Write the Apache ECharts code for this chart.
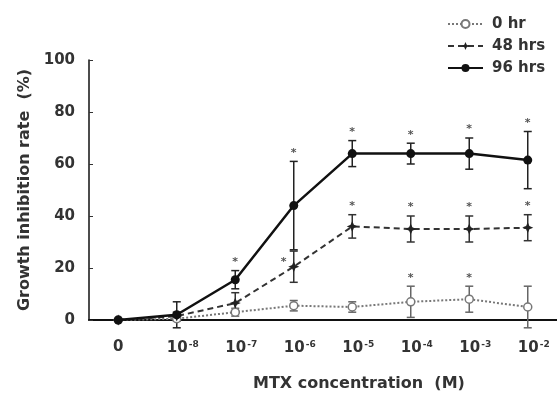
<!DOCTYPE html>
<html><head><meta charset="utf-8">
<script src="https://cdn.jsdelivr.net/npm/echarts@6/dist/echarts.min.js"></script>
<style>html,body{margin:0;padding:0;background:#fff}#c{width:557px;height:394px}</style>
</head><body><div id="c"></div>
<script>
var categories = ['0', '-8', '-7', '-6', '-5', '-4', '-3', '-2'];
var yTicks = [0, 20, 40, 60, 80, 100];
var hr0 = [0, 0.5, 3, 5.5, 5, 7, 8, 5];
var hr0Err = [0, 1, 1.5, 2, 2, 6, 5, 8];
var hr48 = [0, 1.5, 6.5, 20.5, 36, 35, 35, 35.5];
var hr48Err = [0, 1.5, 4, 6, 4.5, 5, 5, 5];
var hr96 = [0, 2, 15.5, 44, 64, 64, 64, 61.5];
var hr96Err = [0, 5, 3.5, 17, 5, 4, 6, 11];
var sig0 = ['', '', '', '', '', 'top', 'top', ''];
var sig48 = ['', '', '', 'left', 'top', 'top', 'top', 'top'];
var sig96 = ['', '', 'top', 'top', 'top', 'top', 'top', 'top'];
var seriesNames = ['0 hr', '48 hrs', '96 hrs'];

var FONT = 'DejaVu Sans';
var chart = echarts.init(document.getElementById('c'));

function errSeries(vals, errs, sig, color) {
  var data = vals.map(function (v, i) { return [i, v, errs[i], sig[i]]; });
  return {
    type: 'custom', silent: true, z: 5,
    renderItem: function (params, api) {
      var i = api.value(0), v = api.value(1), e = api.value(2);
      var s = data[params.dataIndex][3];
      var top = api.coord([i, v + e]);
      var bot = api.coord([i, Math.max(v - e, -3)]);
      var pt = api.coord([i, v]);
      var children = [];
      if (e > 0) {
        var w = 4;
        children.push({ type: 'line', shape: { x1: top[0], y1: top[1], x2: bot[0], y2: bot[1] }, style: { stroke: color, lineWidth: 1.5 } });
        children.push({ type: 'line', shape: { x1: top[0] - w, y1: top[1], x2: top[0] + w, y2: top[1] }, style: { stroke: color, lineWidth: 1.5 } });
        children.push({ type: 'line', shape: { x1: bot[0] - w, y1: bot[1], x2: bot[0] + w, y2: bot[1] }, style: { stroke: color, lineWidth: 1.5 } });
      }
      if (s === 'top') {
        children.push({ type: 'text', style: { text: '*', x: top[0], y: top[1] - 3, textAlign: 'center', textVerticalAlign: 'bottom', font: 'bold 11px "DejaVu Sans"', fill: '#555' } });
      } else if (s === 'left') {
        children.push({ type: 'text', style: { text: '*', x: pt[0] - 10, y: pt[1] - 5, textAlign: 'center', textVerticalAlign: 'middle', font: 'bold 11px "DejaVu Sans"', fill: '#555' } });
      }
      return { type: 'group', children: children };
    },
    data: data
  };
}

var option = {
  animation: false,
  backgroundColor: '#fff',
  textStyle: { fontFamily: FONT },
  grid: { left: 89, right: -8, top: 60, bottom: 74, containLabel: false },
  legend: {
    data: seriesNames,
    orient: 'vertical', left: 447, top: 15, padding: 0,
    itemWidth: 35, itemHeight: 10, itemGap: 4,
    textStyle: { fontFamily: FONT, fontWeight: 'bold', fontSize: 15, lineHeight: 18, color: '#333', padding: [0, 0, 0, 4] }
  },
  xAxis: {
    type: 'category', data: categories, boundaryGap: true,
    axisLine: { lineStyle: { color: '#111', width: 2 } },
    axisTick: { inside: true, alignWithLabel: true, length: 4, lineStyle: { color: '#333' } },
    axisLabel: {
      margin: 20, interval: 0,
      formatter: function (v) { return v === '0' ? '{z|0}' : '{b|10}{s|' + v + '}'; },
      rich: {
        z: { fontFamily: FONT, fontWeight: 'bold', fontSize: 15, color: '#333' },
        b: { fontFamily: FONT, fontWeight: 'bold', fontSize: 15, color: '#333', padding: [0, 0, 0, 12] },
        s: { fontFamily: FONT, fontWeight: 'bold', fontSize: 9, color: '#333', verticalAlign: 'bottom', padding: [0, 0, 7, 1] }
      }
    },
    splitLine: { show: false }
  },
  yAxis: {
    type: 'value', min: 0, max: 100, interval: 20,
    name: 'Growth inhibition rate  (%)', nameLocation: 'middle', nameGap: 56,
    nameTextStyle: { fontFamily: FONT, fontWeight: 'bold', fontSize: 16, color: '#333' },
    axisLine: { show: true, lineStyle: { color: '#111', width: 1.5 } },
    axisTick: { show: true, inside: true, length: 4, lineStyle: { color: '#333' } },
    axisLabel: { margin: 14, fontFamily: FONT, fontWeight: 'bold', fontSize: 15, color: '#333',
      formatter: function (v) { return yTicks.indexOf(v) >= 0 ? String(v) : ''; } },
    splitLine: { show: false }
  },
  graphic: [{
    type: 'text', left: 253, top: 376,
    style: { text: 'MTX concentration  (M)', font: 'bold 16px "DejaVu Sans"', fill: '#333' }
  }],
  series: [
    errSeries(hr0, hr0Err, sig0, '#666'),
    errSeries(hr48, hr48Err, sig48, '#333'),
    errSeries(hr96, hr96Err, sig96, '#222'),
    {
      name: seriesNames[0], type: 'line', data: hr0, z: 6,
      symbol: 'circle', symbolSize: 8, showAllSymbol: true,
      lineStyle: { color: '#777', width: 2, type: [2, 2] },
      itemStyle: { color: '#fff', borderColor: '#777', borderWidth: 1.5 }
    },
    {
      name: seriesNames[1], type: 'line', data: hr48, z: 7,
      symbol: 'path://M0,-10L3,-3L10,0L3,3L0,10L-3,3L-10,0L-3,-3Z', symbolSize: 11,
      lineStyle: { color: '#333', width: 2, type: [6, 4] },
      itemStyle: { color: '#222' }
    },
    {
      name: seriesNames[2], type: 'line', data: hr96, z: 8,
      symbol: 'circle', symbolSize: 9,
      lineStyle: { color: '#111', width: 2.5 },
      itemStyle: { color: '#111' }
    }
  ]
};
chart.setOption(option);
</script></body></html>
